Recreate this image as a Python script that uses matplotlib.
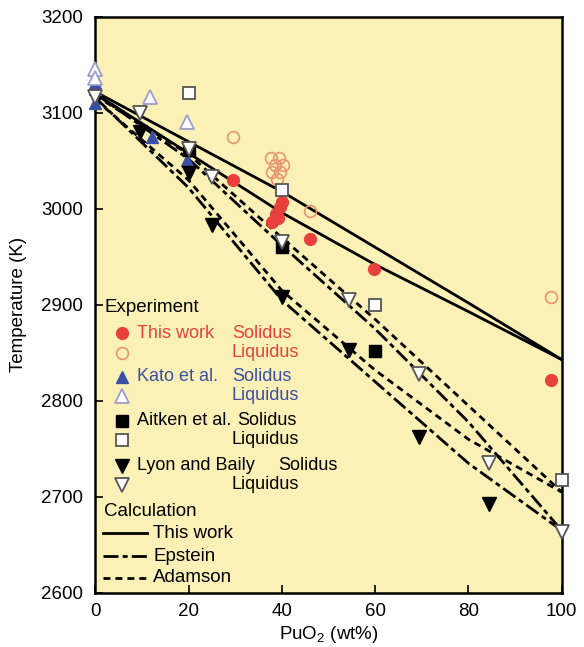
import numpy as np
import matplotlib.pyplot as plt

plt.rcParams['font.family'] = ['Liberation Sans', 'DejaVu Sans']
plt.rcParams['mathtext.fontset'] = 'custom'
plt.rcParams['mathtext.rm'] = 'Liberation Sans'

# --- experimental data (PuO2 wt%, temperature K) ---
tw_sol_x = [29.5, 37.9, 38.8, 39.6, 40.0, 39.2, 46.0, 59.7, 97.6]
tw_sol_y = [3030, 2986, 2995, 3002, 3007, 2990, 2969, 2937, 2822]
tw_liq_x = [29.5, 37.7, 39.4, 38.5, 40.3, 37.9, 39.6, 39.0, 46.0, 97.6]
tw_liq_y = [3075, 3053, 3053, 3046, 3046, 3038, 3038, 3031, 2998, 2908]

kato_sol_x = [0, 0, 0, 12.2, 19.7]
kato_sol_y = [3131, 3125, 3110, 3075, 3051]
kato_liq_x = [0, 0, 11.8, 19.7]
kato_liq_y = [3146, 3136, 3117, 3090]

aitken_sol_x = [20, 40, 60]
aitken_sol_y = [3061, 2960, 2852]
aitken_liq_x = [20, 40, 60, 100]
aitken_liq_y = [3121, 3020, 2900, 2718]

lyon_sol_x = [9.6, 20, 25, 40, 54.5, 69.5, 84.5]
lyon_sol_y = [3080, 3037, 2983, 2908, 2853, 2762, 2693]
lyon_liq_x = [0, 9.6, 20, 25, 40, 54.5, 69.5, 84.5, 100]
lyon_liq_y = [3116, 3100, 3062, 3033, 2965, 2905, 2828, 2735, 2664]

# --- calculated curves ---
calc_x = [0, 20, 40, 60, 80, 100]
tw_liq_calc = [3122, 3070, 3018, 2960, 2902, 2843]
tw_sol_calc = [3120, 3058, 2996, 2942, 2893, 2843]
eps_liq_calc = [3120, 3052, 2962, 2875, 2778, 2665]
eps_sol_calc = [3116, 3022, 2905, 2820, 2735, 2665]
ada_liq_calc = [3118, 3057, 2970, 2885, 2795, 2705]
ada_sol_calc = [3114, 3030, 2915, 2832, 2760, 2705]

RED = '#E8413C'
ORANGE = '#E8956E'
BLUE = '#3B4FA6'
LAV = '#9C9CCB'
GRAY = '#555555'
BG = '#FBF1B6'

fig = plt.figure(figsize=(5.84, 6.47), dpi=100)
ax = fig.add_axes([0.163, 0.0835, 0.799, 0.8905])
ax.set_facecolor(BG)

lw = 2.0
eps_ls = (0, (5.4, 1.5, 1.8, 1.5))
ada_ls = (0, (2.5, 1.8))
ax.plot(calc_x, tw_liq_calc, color='black', lw=lw, zorder=2)
ax.plot(calc_x, tw_sol_calc, color='black', lw=lw, zorder=2)
ax.plot(calc_x, eps_liq_calc, color='black', lw=lw, ls=eps_ls, zorder=2)
ax.plot(calc_x, eps_sol_calc, color='black', lw=lw, ls=eps_ls, zorder=2)
ax.plot(calc_x, ada_liq_calc, color='black', lw=lw, ls=ada_ls, zorder=2)
ax.plot(calc_x, ada_sol_calc, color='black', lw=lw, ls=ada_ls, zorder=2)

styles = [
    (tw_sol_x, tw_sol_y, dict(marker='o', ms=8.5, mfc=RED, mec=RED)),
    (tw_liq_x, tw_liq_y, dict(marker='o', ms=8.5, mfc='none', mec=ORANGE, mew=1.2)),
    (kato_sol_x, kato_sol_y, dict(marker='^', ms=9, mfc=BLUE, mec=BLUE)),
    (kato_liq_x, kato_liq_y, dict(marker='^', ms=9.5, mfc='white', mec=LAV, mew=1.3)),
    (aitken_sol_x, aitken_sol_y, dict(marker='s', ms=8.5, mfc='black', mec='black')),
    (aitken_liq_x, aitken_liq_y, dict(marker='s', ms=8.5, mfc='white', mec=GRAY, mew=1.3)),
    (lyon_sol_x, lyon_sol_y, dict(marker='v', ms=9.5, mfc='black', mec='black')),
    (lyon_liq_x, lyon_liq_y, dict(marker='v', ms=9.5, mfc='white', mec=GRAY, mew=1.3)),
]
for xs, ys, st in styles:
    ax.plot(xs, ys, ls='none', zorder=4, clip_on=False, **st)

ax.set_xlim(0, 100)
ax.set_ylim(2600, 3200)
ax.set_xticks(np.arange(0, 101, 20))
ax.set_yticks(np.arange(2600, 3201, 100))
ax.tick_params(direction='in', length=6, width=1.2, labelsize=13.5)
ax.tick_params(axis='y', pad=8.6)
ax.tick_params(axis='x', pad=7)
for s in ax.spines.values():
    s.set_linewidth(1.8)

ax.set_ylabel('Temperature (K)', fontsize=13.5, labelpad=10)
ax.set_xlabel('PuO$_\\mathrm{2}$ (wt%)', fontsize=13.5, labelpad=3)

# --- hand-built legend (axes fraction coordinates) ---
fs = 13
T = ax.transAxes
ax.text(0.019, 0.495, 'Experiment', transform=T, fontsize=13.5, va='center')
rows = [
    ('This work', 'Solidus', RED, 0.293),
    (None, 'Liquidus', RED, 0.293),
    ('Kato et al.', 'Solidus', BLUE, 0.293),
    (None, 'Liquidus', BLUE, 0.293),
    ('Aitken et al.', 'Solidus', 'black', 0.305),
    (None, 'Liquidus', 'black', 0.293),
    ('Lyon and Baily', 'Solidus', 'black', 0.392),
    (None, 'Liquidus', 'black', 0.293),
]
row_y = [0.451, 0.417, 0.375, 0.342, 0.299, 0.266, 0.221, 0.188]
for (name, kind, col, kx), y, (_, _, st) in zip(rows, row_y, styles):
    ax.plot([0.058], [y], transform=T, ls='none', zorder=5, **st)
    if name:
        ax.text(0.090, y, name, transform=T, fontsize=fs, color=col, va='center')
    ax.text(kx, y, kind, transform=T, fontsize=fs, color=col, va='center')

ax.text(0.019, 0.141, 'Calculation', transform=T, fontsize=13.5, va='center')
calc_rows = [('This work', '-'), ('Epstein', eps_ls), ('Adamson', ada_ls)]
calc_y = [0.104, 0.064, 0.026]
for (name, ls), y in zip(calc_rows, calc_y):
    ax.plot([0.017, 0.111], [y, y], transform=T, color='black', lw=lw, ls=ls)
    ax.text(0.124, y, name, transform=T, fontsize=13.5, va='center')

fig.savefig('out.png', dpi=100)
